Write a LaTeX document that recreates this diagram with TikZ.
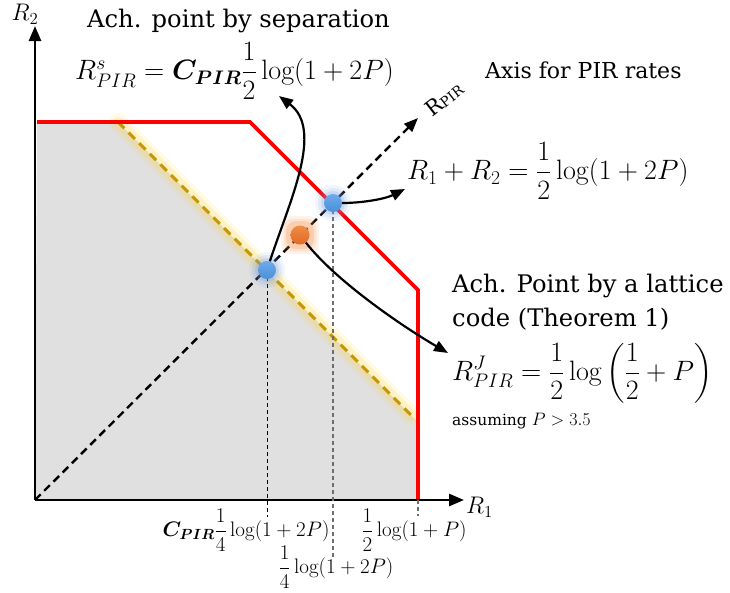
\RequirePackage{fix-cm}
\documentclass[tikz,border=0pt]{standalone}
\usepackage{amsmath,bm}
\usepackage{fontspec}
\newfontfamily\labelfont{DejaVu Serif}
\usetikzlibrary{arrows.meta}
\definecolor{regred}{RGB}{255,0,0}
\definecolor{grayfill}{RGB}{224,224,224}
\definecolor{gold}{RGB}{196,150,10}
\definecolor{glowyellow}{RGB}{255,215,60}
\definecolor{ptblue}{RGB}{74,144,217}
\definecolor{ptbluelight}{RGB}{110,170,235}
\definecolor{haloblue}{RGB}{120,160,225}
\definecolor{ptorange}{RGB}{225,105,35}
\definecolor{ptorangelight}{RGB}{240,140,70}
\definecolor{haloorange}{RGB}{245,140,70}
\definecolor{vgray}{RGB}{110,110,110}
\begin{document}
\begin{tikzpicture}[x=1pt,y=-1pt,
  axisline/.style={line width=2.6pt, -{Triangle[length=15pt,width=12pt]}},
  regline/.style={line width=3.6pt, regred},
  diagline/.style={line width=2.4pt, dash pattern=on 8pt off 5pt, -{Triangle[length=14pt,width=11pt]}},
  vline/.style={line width=1pt, dash pattern=on 4pt off 3pt},
  conn/.style={line width=2.2pt, -{Triangle[length=14pt,width=11pt]}},
  bluept/.style={circle, minimum size=18pt, inner sep=0pt, top color=ptbluelight, bottom color=ptblue},
  orangept/.style={circle, minimum size=19pt, inner sep=0pt, top color=ptorangelight, bottom color=ptorange},
  txt/.style={font=\labelfont\fontsize{24.2}{28}\selectfont, inner sep=0pt, anchor=base west},
  mtxt/.style={font=\fontsize{28}{32}\selectfont, inner sep=0pt, anchor=west},
  small/.style={font=\fontsize{21}{24}\selectfont, inner sep=0pt}
]
\useasboundingbox (0,0) rectangle (730,592);
% key coordinates
\coordinate (O) at (35,500);
\coordinate (Ytip) at (35,26);
\coordinate (Xtip) at (464,500);
\coordinate (RA) at (37,122);
\coordinate (RB) at (250,122);
\coordinate (RC) at (418,290);
\coordinate (RD) at (418,500);
\coordinate (GA) at (118,122);
\coordinate (GB) at (418,422);
\coordinate (Yend) at (412,416);
\coordinate (Dtip) at (418,118);
\coordinate (V1) at (267,517);
\coordinate (V2) at (333,557);
\coordinate (V3) at (418,516);
% region
\fill[grayfill] (O) -- (RA) -- (GA) -- (GB) -- (RD) -- cycle;
\draw[glowyellow, line width=18pt, opacity=0.12, line cap=round] (GA) -- (Yend);
\draw[glowyellow, line width=11pt, opacity=0.2, line cap=round] (GA) -- (Yend);
\draw[gold, line width=3pt, dash pattern=on 9pt off 6pt] (GA) -- (Yend);
\draw[regline] (RA) -- (RB) -- (RC) -- (RD);
% axes
\draw[axisline] (O) -- (Ytip);
\draw[axisline] (O) -- (Xtip);
\draw[diagline] (O) -- (Dtip);
% points
\coordinate (B1c) at (267,270);
\coordinate (B2c) at (333,203);
\coordinate (ORc) at (300,235);
\draw[vline] (B1c) -- (V1);
\draw[vline, vgray, line width=1.4pt] (B2c) -- (V2);
\draw[vline, vgray, line width=1.4pt] (RD) -- (V3);
\foreach \r/\o in {18/0.10,15/0.15,12/0.22} {
  \fill[haloblue, opacity=\o] (B1c) circle (\r pt);
  \fill[haloblue, opacity=\o] (B2c) circle (\r pt);
}
\foreach \s/\o in {38/0.10,33/0.16,28/0.24} {
  \node[fill=haloorange, opacity=\o, minimum size=\s pt, inner sep=0pt, rounded corners=10pt] at (ORc) {};
}
\node[bluept] (B1) at (B1c) {};
\node[bluept] (B2) at (B2c) {};
\node[orangept] (OR) at (ORc) {};
% arrow targets
\coordinate (T1) at (279,96);
\coordinate (T2) at (405,189);
\coordinate (T3) at (448,353);
\draw[conn] (B1) .. controls (290,200) and (324,130) .. (T1);
\draw[conn] (B2) .. controls (362,203) and (385,199) .. (T2);
\draw[conn] (OR) .. controls (335,280) and (400,325) .. (T3);
% labels
\node[font=\fontsize{24}{26}\selectfont, inner sep=0pt] (R2) at (25,14) {$R_2$};
\node[font=\fontsize{24}{26}\selectfont, inner sep=0pt, anchor=west] (R1) at (466,507) {$R_1$};
\node[txt] (t1) at (87,27) {Ach. point by separation};
\node[mtxt] (f1) at (75,71) {$R^{s}_{PIR} = \bm{C_{PIR}}\dfrac{1}{2}\log(1+2P)$};
\node[txt, font=\labelfont\fontsize{22}{26}\selectfont] (ax) at (485,78) {Axis for PIR rates};
\node[rotate=38, inner sep=0pt, font=\labelfont\fontsize{21}{24}\selectfont] (rp) at (444,99) {R{\fontsize{14}{16}\selectfont PIR}};
\node[mtxt] (f2) at (407,171) {$R_1+R_2=\dfrac{1}{2}\log(1+2P)$};
\node[txt] (t2) at (452,292) {Ach. Point by a lattice};
\node[txt] (t3) at (452,326) {code (Theorem 1)};
\node[mtxt] (f3) at (452,373) {$R^{J}_{PIR} = \dfrac{1}{2}\log\left(\dfrac{1}{2}+P\right)$};
\node[txt, font=\labelfont\fontsize{15.5}{18}\selectfont] (t4) at (452,425) {assuming {\fontsize{18}{20}\selectfont$P>3.5$}};
\node[small] (l1) at (246,530) {$\bm{C_{PIR}}\dfrac{1}{4}\log(1+2P)$};
\node[small] (l2) at (414,530) {$\dfrac{1}{2}\log(1+P)$};
\node[small] (l3) at (336,567) {$\dfrac{1}{4}\log(1+2P)$};
\end{tikzpicture}
\end{document}
